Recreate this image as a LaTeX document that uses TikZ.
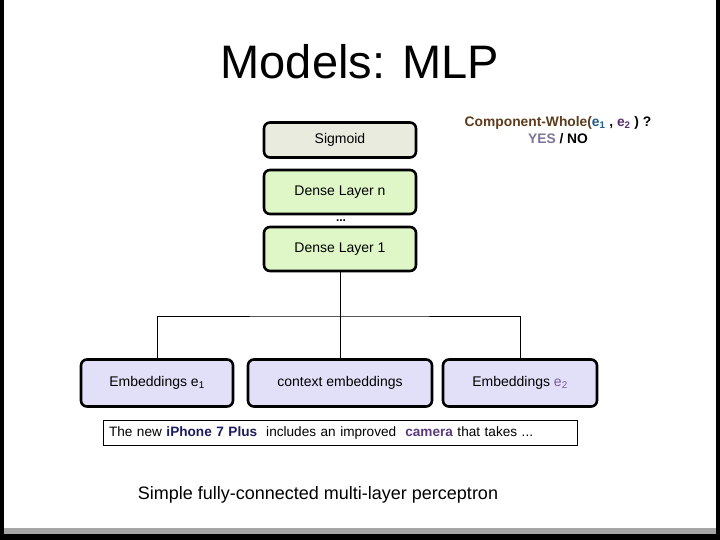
\documentclass[tikz,border=0pt]{standalone}
\usepackage{fontspec}
\setmainfont{Liberation Sans}
\usetikzlibrary{positioning, calc}
\usepackage{xcolor}
\definecolor{SigFill}{HTML}{EAEBDF}
\definecolor{DenseFill}{HTML}{DFF7C7}
\definecolor{EmbFill}{HTML}{E2E0F8}
\definecolor{RelBrown}{HTML}{5E3B1C}
\definecolor{EntA}{HTML}{1F5C8A}
\definecolor{EntB}{HTML}{5A2D70}
\definecolor{EntBlight}{HTML}{7A5A9C}
\definecolor{YesGray}{HTML}{7F7399}
\definecolor{Navy}{HTML}{1C1C60}
\definecolor{CamPurple}{HTML}{5C3A7C}
\tikzset{
  lbox/.style={draw=black, line width=2.6pt, rounded corners=6pt, align=center,
    minimum width=152pt, minimum height=44pt, inner sep=4pt, font=\fontsize{14}{16}\selectfont},
  sigbox/.style={lbox, fill=SigFill, minimum height=35pt},
  densebox/.style={lbox, fill=DenseFill},
  embbox/.style={lbox, fill=EmbFill, minimum height=47pt},
  wire/.style={draw=black, line width=0.8pt},
}

\begin{document}
\begin{tikzpicture}[x=1pt, y=-1pt]
    \useasboundingbox (0,0) rectangle (720,540);
    % slide frame
    \fill[black] (0,0) rectangle (720,540);
    \fill[gray!70] (4,0) rectangle (716,534);
    \fill[white] (4,0) rectangle (716,528);
    \node (title) at (360,62) {\fontsize{47}{50}\selectfont Models: MLP};
    % network
    \node[sigbox] (sig) at (340,140) {Sigmoid};
    \node[densebox] (dn) at (340,192) {Dense Layer n};
    \node[densebox] (d1) at (340,249) {Dense Layer 1};
    \node[font=\bfseries\fontsize{12}{12}\selectfont, inner sep=0pt] (dots) at (341,221) {...};
    \node[embbox] (e1) at (157,383) {Embeddings e\textsubscript{1}};
    \node[embbox, minimum width=184pt] (ctx) at (340,383) {context embeddings};
    \node[embbox, minimum width=154pt] (e2) at (520,383) {Embeddings \textcolor{EntBlight}{e\textsubscript{2}}};
    \coordinate (bus) at (340,316);
    \draw[wire] (d1.south) -- (bus);
    \draw[wire] (ctx.north) -- (bus);
    \draw[wire] (e1.north) |- (bus) -| (e2.north);
    % output and input text
    \node[align=center, font=\bfseries\fontsize{13.8}{17}\selectfont] (rel) at (558,130)
      {\textcolor{RelBrown}{Component-Whole(}\textcolor{EntA}{e\textsubscript{1}} , \textcolor{EntB}{e\textsubscript{2}} ) ?\\
       \textcolor{YesGray}{YES} / NO};
    \node[draw=black, line width=0.8pt, minimum width=474pt, minimum height=24pt,
      text width=462pt, inner sep=6pt, align=left, font=\fontsize{13.6}{15}\selectfont] (sent) at (340,433)
      {The new \textbf{\textcolor{Navy}{iPhone 7 Plus}} \ includes an improved \ \textbf{\textcolor{CamPurple}{camera}} that takes ...};
    \node[font=\fontsize{18}{20}\selectfont] (cap) at (318,495) {Simple fully-connected multi-layer perceptron};
  \end{tikzpicture}
\end{document}
